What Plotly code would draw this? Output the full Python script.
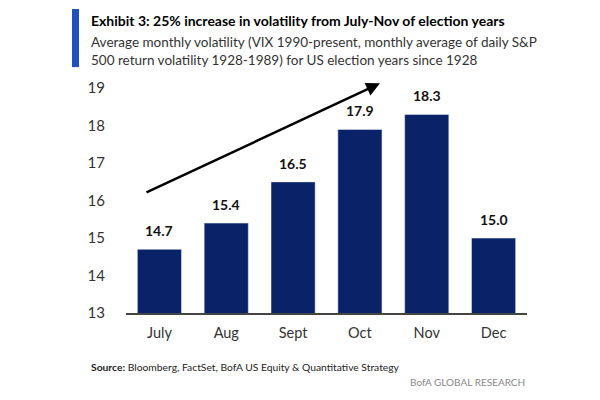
import plotly.graph_objects as go

months = ["July", "Aug", "Sept", "Oct", "Nov", "Dec"]
volatility = [14.7, 15.4, 16.5, 17.9, 18.3, 15.0]
y_ticks = [13, 14, 15, 16, 17, 18, 19]

title_text = "<b>Exhibit 3: 25% increase in volatility from July-Nov of election years</b>"
subtitle_text = ("Average monthly volatility (VIX 1990-present, monthly average of daily S&P<br>"
                 "500 return volatility 1928-1989) for US election years since 1928")
source_text = "<b>Source:</b> Bloomberg, FactSet, BofA US Equity & Quantitative Strategy"
brand_text = "BofA GLOBAL RESEARCH"

FONT = "Lato, sans-serif"
NAVY = "#0a2268"

fig = go.Figure()
fig.add_trace(go.Bar(x=months, y=volatility, marker_color=NAVY, width=0.66))

annotations = []
for m, v in zip(months, volatility):
    annotations.append(dict(x=m, y=v, xref="x", yref="y", text=f"<b>{v:.1f}</b>",
                            showarrow=False, yanchor="bottom", yshift=8,
                            font=dict(family=FONT, size=14, color="#111")))

# trend arrow
annotations.append(dict(x=3.30, y=19.13, ax=-0.216, ay=16.2, xref="x", yref="y",
                        axref="x", ayref="y", text="", showarrow=True,
                        arrowhead=2, arrowsize=1.1, arrowwidth=2.5, arrowcolor="#000",
                        standoff=0))

annotations += [
    dict(x=-0.0923, y=1.2415, xref="paper", yref="paper", text=title_text,
         showarrow=False, xanchor="left", yanchor="middle", align="left",
         font=dict(family=FONT, size=14, color="#000")),
    dict(x=-0.0923, y=1.11, xref="paper", yref="paper", text=subtitle_text,
         showarrow=False, xanchor="left", yanchor="middle", align="left",
         font=dict(family=FONT, size=13.5, color="#333")),
    dict(x=-0.0923, y=-0.229, xref="paper", yref="paper", text=source_text,
         showarrow=False, xanchor="left", yanchor="middle", align="left",
         font=dict(family=FONT, size=10.3, color="#222")),
    dict(x=1.0, y=-0.292, xref="paper", yref="paper", text=brand_text,
         showarrow=False, xanchor="right", yanchor="middle", align="right",
         font=dict(family=FONT, size=10, color="#888")),
]

fig.update_layout(
    width=592, height=392,
    margin=dict(l=118, r=73, t=69, b=87),
    paper_bgcolor="white", plot_bgcolor="white",
    showlegend=False,
    bargap=0.34,
    annotations=annotations,
    shapes=[dict(type="rect", xref="paper", yref="paper",
                 x0=-0.1347, x1=-0.1172, y0=1.042, y1=1.288,
                 fillcolor="#1f50c0", line=dict(width=0))],
    font=dict(family=FONT, size=15, color="#333"),
)
fig.update_xaxes(showline=True, linecolor="#444", linewidth=2, showgrid=False,
                 ticks="", ticklabelstandoff=6,
                 tickfont=dict(family=FONT, size=14.5, color="#333"))
fig.update_yaxes(range=[13, 19.3], tickvals=y_ticks, showgrid=False, zeroline=False,
                 showline=False, ticks="", ticklabelstandoff=20,
                 tickfont=dict(family=FONT, size=15, color="#333"))

fig.write_html("out.html")
